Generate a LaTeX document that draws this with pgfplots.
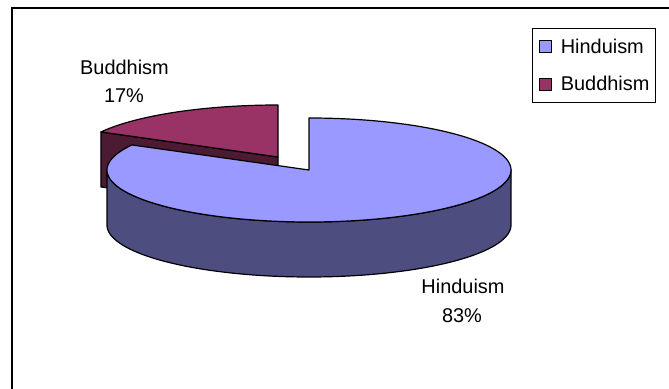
\documentclass[border=0pt]{standalone}
\usepackage{pgfplots}
\pgfplotsset{compat=1.18}
\usepackage{fontspec}
\setmainfont{Liberation Sans}
\definecolor{hinTop}{HTML}{9999FF}
\definecolor{hinSide}{HTML}{4D4D80}
\definecolor{budTop}{HTML}{993366}
\definecolor{budSide}{HTML}{4D1A33}
\pgfplotsset{sqlegend/.style={legend image code/.code={\draw[##1, draw=black, line width=1.2bp] (0bp,-6bp) rectangle (12bp,6bp);}}}
% data (percent)
\def\valH{83}
\def\valB{17}
\begin{document}
\begin{tikzpicture}
\pgfmathsetmacro\splitang{90+3.6*\valB}
\begin{axis}[scale only axis, width=669bp, height=389bp,
  xmin=0, xmax=669, ymin=0, ymax=389, hide axis, clip=false,
  legend style={at={(axis cs:532,361)}, anchor=north west, draw=black, line width=1.2bp,
    inner xsep=6bp, inner ysep=10bp, font=\fontsize{20}{24}\selectfont,
    row sep=22bp, column sep=9bp, nodes={inner sep=0pt}},
  legend cell align=left]
% frame
\draw[line width=2bp] (axis cs:12.3,0) -- (axis cs:12.3,381) -- (axis cs:669,381);
% Buddhism radial side face
\addplot[draw=black, fill=budSide, line width=1.2bp, line join=round, forget plot]
  coordinates {(278,232) (100.99,257.05) (100.99,202.05) (278,177)} -- cycle;
% Buddhism top face
\addplot[draw=black, fill=budTop, line width=1.2bp, line join=round, domain=90:\splitang, samples=80, forget plot]
  ({278+202*cos(x)},{232+52*sin(x)}) -- (axis cs:278,232) -- cycle;
% Hinduism outer side
\addplot[draw=black, fill=hinSide, line width=1.2bp, line join=round, domain=180:540, samples=361, forget plot]
  ({309+202*cos(x)},{x<360.5 ? 219+52*sin(x) : 164-52*sin(x)}) -- cycle;
% Hinduism top face
\addplot[draw=black, fill=hinTop, line width=1.2bp, line join=round, domain=\splitang:450, samples=300, forget plot]
  ({309+202*cos(x)},{219+52*sin(x)}) -- (axis cs:309,219) -- cycle;
\addlegendimage{sqlegend, fill=hinTop}
\addlegendentry{Hinduism}
\addlegendimage{sqlegend, fill=budTop}
\addlegendentry{Buddhism}
% labels
\node[anchor=base, font=\fontsize{20}{24}\selectfont] at (axis cs:124.5,314) {Buddhism};
\node[anchor=base, font=\fontsize{20}{24}\selectfont] at (axis cs:124,286) {17\%};
\node[anchor=base, font=\fontsize{20}{24}\selectfont] at (axis cs:463,95) {Hinduism};
\node[anchor=base, font=\fontsize{20}{24}\selectfont] at (axis cs:462,66) {83\%};
\end{axis}
\pgfresetboundingbox
\path (current axis.south west) rectangle (current axis.north east);
\end{tikzpicture}
\end{document}
